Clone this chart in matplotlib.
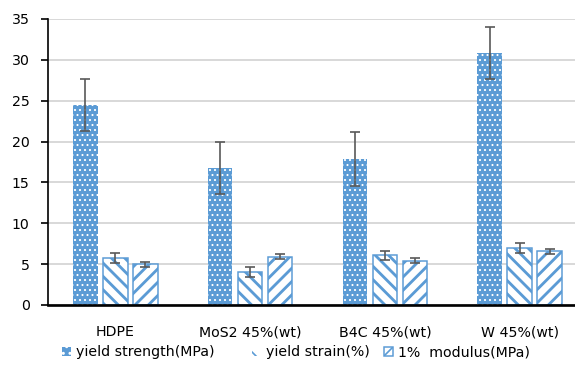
import matplotlib
matplotlib.use("Agg")
import matplotlib.pyplot as plt
from matplotlib.patches import Patch
import numpy as np

categories = ["HDPE", "MoS2 45%(wt)", "B4C 45%(wt)", "W 45%(wt)"]
strength = [24.5, 16.8, 17.9, 30.8]
strength_err = [3.2, 3.2, 3.3, 3.2]
strain = [5.8, 4.0, 6.1, 7.0]
strain_err = [0.6, 0.6, 0.55, 0.6]
modulus = [5.0, 5.9, 5.4, 6.6]
modulus_err = [0.3, 0.3, 0.3, 0.3]
series_labels = ["yield strength(MPa)", "yield strain(%)", "1%  modulus(MPa)"]
yticks = [0, 5, 10, 15, 20, 25, 30, 35]

BLUE = "#5B9BD5"
ERR = "#595959"
DOTS = "...."
DOT_LW = 0.65
STRIPE_LW = 1.7
plt.rcParams["font.family"] = ["DejaVu Sans"]
FS = 8.5

DPI = 120
W, H = 575, 373
fig = plt.figure(figsize=(W / DPI, H / DPI), dpi=DPI)
ax = fig.add_axes([48 / W, 68 / H, 539 / W, 286 / H])

x = np.arange(len(categories))
pitch = 0.2226
width = 0.182
err_kw = dict(ecolor=ERR, elinewidth=1.0, capsize=3.2, capthick=1.0)


def hatch_lw(patches, lw):
    for p in patches:
        if hasattr(p, "set_hatch_linewidth"):
            p.set_hatch_linewidth(lw)


with plt.rc_context({"hatch.linewidth": DOT_LW}):
    b1 = ax.bar(x - pitch, strength, width, yerr=strength_err, color=BLUE,
                edgecolor="white", linewidth=0, hatch=DOTS, error_kw=err_kw,
                zorder=3)
hatch_lw(b1, DOT_LW)

with plt.rc_context({"hatch.linewidth": STRIPE_LW}):
    b2 = ax.bar(x, strain, width, yerr=strain_err, color="white",
                edgecolor=BLUE, linewidth=0.9, hatch="\\\\\\", error_kw=err_kw,
                zorder=3)
    b3 = ax.bar(x + pitch, modulus, width, yerr=modulus_err, color="white",
                edgecolor=BLUE, linewidth=0.9, hatch="///", error_kw=err_kw,
                zorder=3)
hatch_lw(b2, STRIPE_LW)
hatch_lw(b3, STRIPE_LW)

ax.set_xlim(-0.5, 3.5)
ax.set_ylim(0, 35)
ax.set_yticks(yticks)
ax.set_xticks(x)
ax.set_xticklabels(categories, fontsize=FS)
ax.tick_params(axis="x", length=0, pad=12)
ax.tick_params(axis="y", length=4, width=1, direction="out", pad=7,
               labelsize=FS, color="black")
ax.yaxis.grid(True, color="#D9D9D9", linewidth=1.2, zorder=0)
ax.set_axisbelow(True)
for s in ["top", "right"]:
    ax.spines[s].set_visible(False)
ax.spines["left"].set_linewidth(1.0)
ax.spines["bottom"].set_linewidth(1.6)
ax.spines["bottom"].set_zorder(4)

# legend keys
with plt.rc_context({"hatch.linewidth": DOT_LW}):
    h1 = Patch(facecolor=BLUE, edgecolor="white", linewidth=0, hatch="...")
hatch_lw([h1], DOT_LW)
with plt.rc_context({"hatch.linewidth": 2.0}):
    h2 = Patch(facecolor="white", edgecolor=BLUE, linewidth=0, hatch="\\\\")
    h3 = Patch(facecolor="white", edgecolor=BLUE, linewidth=0.9, hatch="//")
hatch_lw([h2, h3], 2.0)

# one legend entry per key, laid out along the bottom
key_x = [62, 252, 384]
for h, lab, kx in zip([h1, h2, h3], series_labels, key_x):
    lg = fig.legend([h], [lab], loc="center left",
                    bbox_to_anchor=(kx / W, 21 / H), frameon=False,
                    fontsize=FS, handlelength=0.6, handleheight=0.6,
                    handletextpad=0.4, borderpad=0, borderaxespad=0)

fig.savefig("out.png", dpi=DPI)
